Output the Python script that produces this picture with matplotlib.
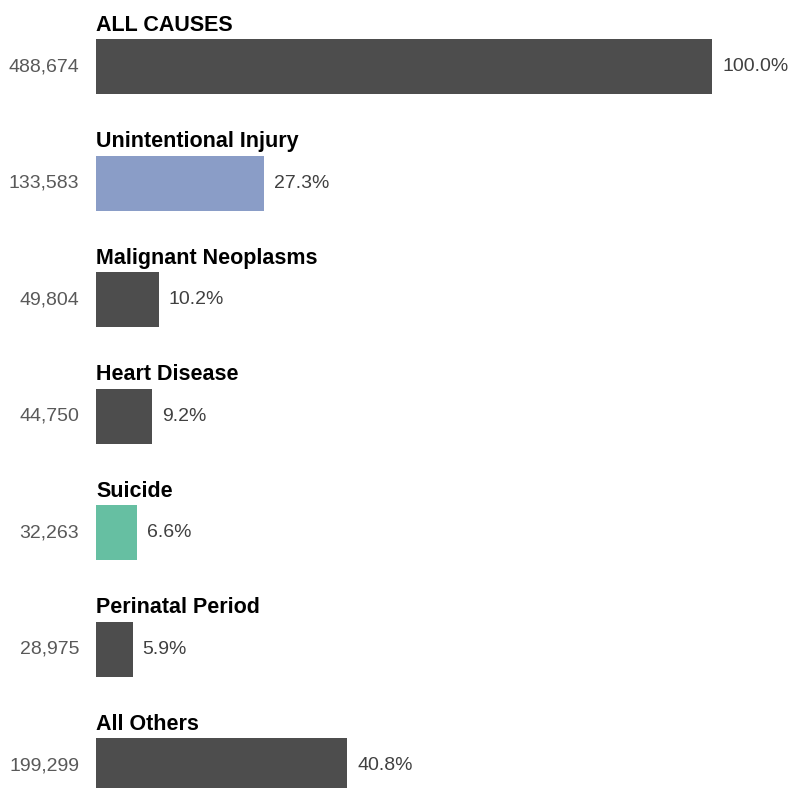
import matplotlib
matplotlib.use("Agg")
import matplotlib.pyplot as plt

categories = ["ALL CAUSES", "Unintentional Injury", "Malignant Neoplasms",
              "Heart Disease", "Suicide", "Perinatal Period", "All Others"]
deaths = [488674, 133583, 49804, 44750, 32263, 28975, 199299]
percents = ["100.0%", "27.3%", "10.2%", "9.2%", "6.6%", "5.9%", "40.8%"]
count_labels = ["488,674", "133,583", "49,804", "44,750", "32,263", "28,975", "199,299"]
colors = ["#4d4d4d", "#8a9dc7", "#4d4d4d", "#4d4d4d", "#66bfa2", "#4d4d4d", "#4d4d4d"]

plt.rcParams['font.family'] = ['Liberation Sans', 'DejaVu Sans']

fig = plt.figure(figsize=(7.88, 7.88), dpi=100)
ax = fig.add_axes([96/788, 0, (712-96)/788, 1])
ax.set_xlim(0, deaths[0])
ax.set_ylim(6.193, -0.571)
ax.axis('off')

pos = list(range(len(categories)))
ax.barh(pos, deaths, height=0.472, color=colors, clip_on=False)

for i, (cat, d, p, c) in enumerate(zip(categories, deaths, percents, count_labels)):
    ax.annotate(cat, xy=(0, i - 0.236), xytext=(0, 5.8), textcoords='offset points',
                ha='left', va='baseline', fontsize=15.5, fontweight='bold', color='black')
    ax.annotate(c, xy=(0, i), xytext=(-12.2, 0), textcoords='offset points',
                ha='right', va='center', fontsize=14, color='#595959')
    ax.annotate(p, xy=(d, i), xytext=(7.2, 0), textcoords='offset points',
                ha='left', va='center', fontsize=14, color='#404040', annotation_clip=False)

fig.savefig("out.png", dpi=100)
